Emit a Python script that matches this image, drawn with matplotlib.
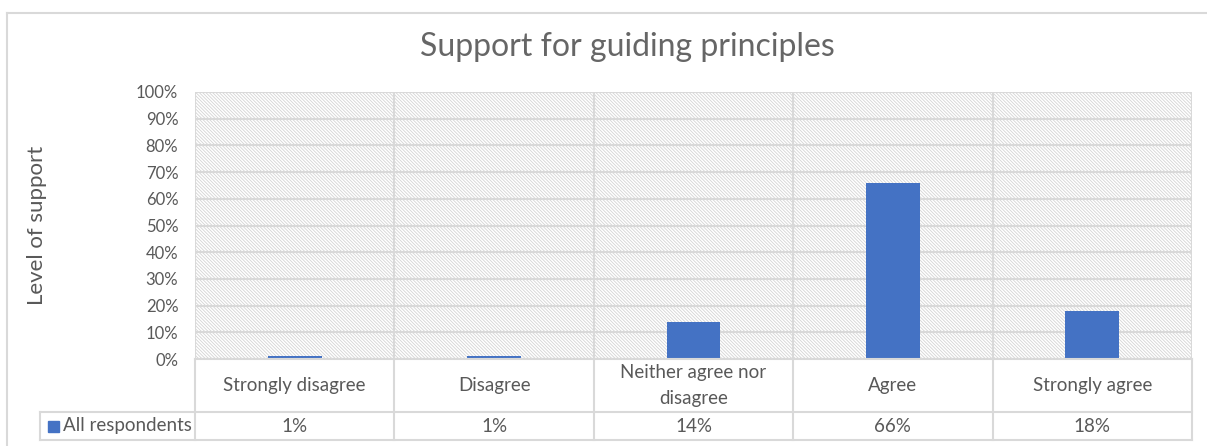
import matplotlib.pyplot as plt
from matplotlib.lines import Line2D
from matplotlib.patches import Rectangle
import matplotlib.transforms as mtransforms

plt.rcParams['font.family'] = ['Lato', 'DejaVu Sans']
plt.rcParams['hatch.linewidth'] = 0.6

categories = ['Strongly disagree', 'Disagree', 'Neither agree nor\ndisagree', 'Agree', 'Strongly agree']
values = [1, 1, 14, 66, 18]
value_labels = ['1%', '1%', '14%', '66%', '18%']
series_name = 'All respondents'

W, H = 1207, 446
bar_color = '#4472C4'
grid_color = '#d9d9d9'
text_color = '#595959'

fig = plt.figure(figsize=(W / 100, H / 100), dpi=100)

def fx(px):
    return px / W

def fy(py):
    return 1 - py / H

# plot area
ax_l, ax_r, ax_t, ax_b = 195, 1192, 92, 359
ax = fig.add_axes([fx(ax_l), fy(ax_b), fx(ax_r - ax_l), (ax_b - ax_t) / H])

x = list(range(len(categories)))
ax.set_xlim(-0.5, len(categories) - 0.5)
ax.set_ylim(0, 100)

# hatched background
ax.add_patch(Rectangle((0, 0), 1, 1, transform=ax.transAxes, facecolor='white',
                       edgecolor='#d4d4d4', hatch='\\' * 10, linewidth=0, zorder=0))

ax.bar(x, values, width=0.27, color=bar_color, zorder=3)

ax.set_yticks(range(0, 101, 10))
ax.set_yticklabels([f'{v}%' for v in range(0, 101, 10)], fontsize=12, color=text_color)
ax.set_xticks([])
ax.tick_params(axis='y', length=0, pad=12)
ax.yaxis.grid(True, color=grid_color, linewidth=1.5, zorder=1)
for b in [i - 0.5 for i in range(len(categories) + 1)]:
    ax.axvline(b, color=grid_color, linewidth=1.5, zorder=1)
for s in ax.spines.values():
    s.set_visible(False)
ax.set_axisbelow(True)

ax.set_ylabel('Level of support', fontsize=16, color=text_color, labelpad=0)
ax.yaxis.set_label_coords(-(195 - 47) / (ax_r - ax_l), 0.5)

fig.text(fx(627), fy(47), 'Support for guiding principles', fontsize=23,
         color='#666666', ha='center', va='center')

# data table
row1_top, row2_top, row2_bot = 359, 412, 440
legend_left = 40
lw = 1.5

def hline(y, x0, x1):
    fig.add_artist(Line2D([fx(x0), fx(x1)], [fy(y), fy(y)], color=grid_color, lw=lw))

def vline(xp, y0, y1):
    fig.add_artist(Line2D([fx(xp), fx(xp)], [fy(y0), fy(y1)], color=grid_color, lw=lw))

hline(row1_top, ax_l, ax_r)
hline(row2_top, legend_left, ax_r)
hline(row2_bot, legend_left, ax_r)
vline(legend_left, row2_top, row2_bot)
blend = mtransforms.blended_transform_factory(ax.transData, fig.transFigure)
for b in [i - 0.5 for i in range(len(categories) + 1)]:
    fig.add_artist(Line2D([b, b], [fy(row1_top), fy(row2_bot)], color=grid_color,
                          lw=lw, transform=blend))

for i, (c, v) in enumerate(zip(categories, value_labels)):
    fig.text(i, fy((row1_top + row2_top) / 2), c, transform=blend, ha='center',
             va='center', fontsize=13.5, color=text_color, linespacing=1.65)
    fig.text(i, fy((row2_top + row2_bot) / 2), v, transform=blend, ha='center',
             va='center', fontsize=13.5, color=text_color)

fig.add_artist(Rectangle((fx(48), fy(432)), fx(11), 11 / H, color=bar_color))
fig.text(fx(63), fy((row2_top + row2_bot) / 2), series_name, ha='left', va='center',
         fontsize=13.5, color=text_color)

# outer chart frame
fig.add_artist(Line2D([fx(7), fx(7)], [fy(13), 0], color='#d9d9d9', lw=1.5))
fig.add_artist(Line2D([fx(7), 1], [fy(13), fy(13)], color='#d9d9d9', lw=1.5))

fig.savefig('out.png', dpi=100)
